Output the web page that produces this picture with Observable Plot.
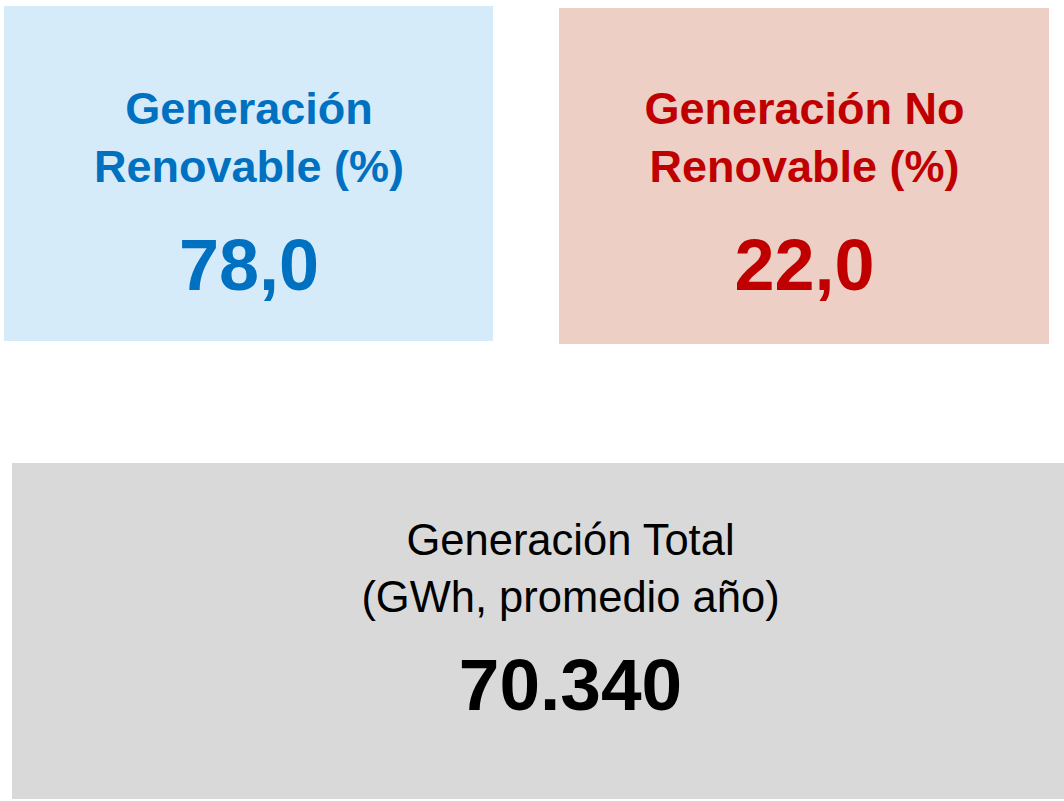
<!DOCTYPE html>
<html>
<head>
<meta charset="utf-8">
<script src="https://cdn.jsdelivr.net/npm/d3@7"></script>
<script src="https://cdn.jsdelivr.net/npm/@observablehq/plot@0.6"></script>
<style>
  html, body { margin: 0; padding: 0; background: #ffffff; }
  #chart svg { display: block; }
</style>
</head>
<body>
<div id="chart"></div>
<script>
// ---- Data ----
const cardKeys = ["renovable", "noRenovable", "total"];
const cardTitles = ["Generación\nRenovable (%)", "Generación No\nRenovable (%)", "Generación Total\n(GWh, promedio año)"];
const cardValues = [78.0, 22.0, 70340];
const cardFormats = [",.1f", ",.1f", ",d"];

// ---- Layout & style (separate from data) ----
const W = 1064, H = 801;
const layout = {
  renovable:   {x1: 4,   x2: 493,  y1: 6,   y2: 341, fill: "#D6EBFA", color: "#0070C0", titleSize: 45, titleWeight: "bold", titleBase: 181, titleLH: 1.27, valueSize: 72, valueBase: 289},
  noRenovable: {x1: 559, x2: 1049, y1: 8,   y2: 344, fill: "#EDCFC5", color: "#C00000", titleSize: 45, titleWeight: "bold", titleBase: 181, titleLH: 1.27, valueSize: 72, valueBase: 289},
  total:       {x1: 12,  x2: 1128, y1: 463, y2: 799, fill: "#D9D9D9", color: "#000000", titleSize: 43.5, titleWeight: "normal", titleBase: 611, titleLH: 1.29, valueSize: 73, valueBase: 709}
};

const esLocale = d3.formatLocale({decimal: ",", thousands: ".", grouping: [3], currency: ["", " €"]});

const cards = cardKeys.map((k, i) => ({
  key: k,
  title: cardTitles[i],
  label: esLocale.format(cardFormats[i])(cardValues[i]),
  ...layout[k],
  cx: (layout[k].x1 + layout[k].x2) / 2
}));

const font = "'Liberation Sans', Arial, sans-serif";

const marks = [
  Plot.rect(cards, {x1: "x1", x2: "x2", y1: "y1", y2: "y2", fill: "fill"})
];
for (const c of cards) {
  marks.push(Plot.text([c], {
    x: "cx", y: "titleBase", text: "title", fill: "color",
    fontSize: c.titleSize, fontWeight: c.titleWeight,
    lineAnchor: "bottom", lineHeight: c.titleLH, textAnchor: "middle"
  }));
  marks.push(Plot.text([c], {
    x: "cx", y: "valueBase", text: "label", fill: "color",
    fontSize: c.valueSize, fontWeight: "bold",
    lineAnchor: "bottom", textAnchor: "middle"
  }));
}

const chart = Plot.plot({
  width: W,
  height: H,
  margin: 0,
  style: {fontFamily: font, background: "#ffffff", overflow: "hidden"},
  x: {type: "identity", axis: null},
  y: {type: "identity", axis: null},
  color: {type: "identity"},
  marks
});
document.getElementById("chart").appendChild(chart);
</script>
</body>
</html>
